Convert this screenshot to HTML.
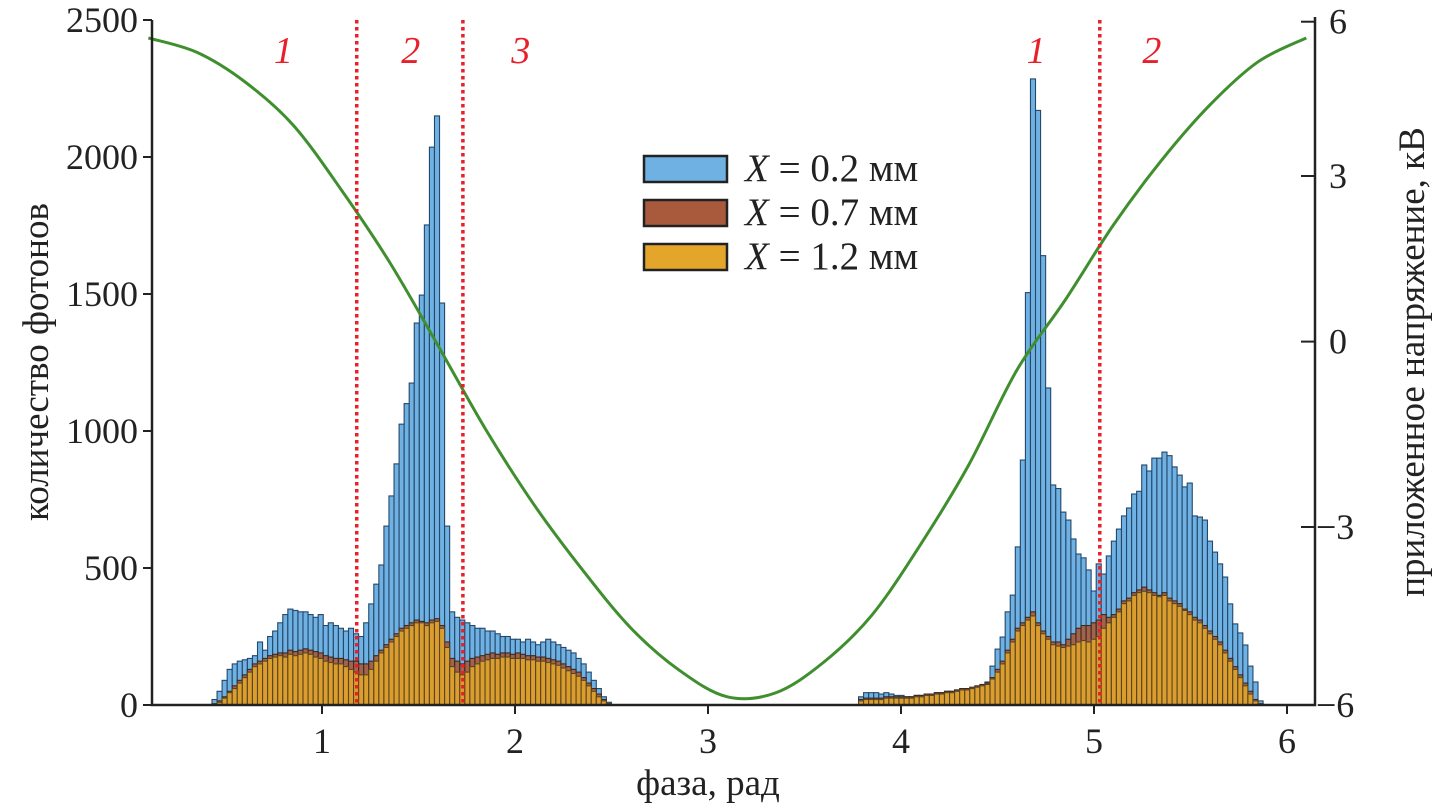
<!DOCTYPE html>
<html><head><meta charset="utf-8"><style>
body{margin:0;background:#fff;}
svg{display:block;font-family:"Liberation Serif",serif;}
</style></head><body>
<svg id="c" width="1437" height="808"></svg>
<script>
const binWidth = 0.0262;
const leftStart = 0.43;
const rightStart = 3.78;
const leftBlue = [20,50,90,130,150,160,165,170,180,230,200,250,270,300,330,350,345,340,340,330,320,330,290,300,290,280,270,280,260,250,300,369,441,511,653,763,880,1025,1100,1175,1394,1496,1752,2036,2150,1467,653,340,320,310,300,290,280,280,270,270,260,250,250,240,240,230,240,230,220,230,240,230,220,210,200,190,170,150,120,90,60,30,10];
const leftBrown = [5,15,30,50,70,90,110,130,150,160,170,180,185,190,190,200,195,200,205,200,195,190,180,175,170,170,165,160,160,150,150,160,180,200,220,240,260,280,290,300,310,305,300,310,315,290,230,170,160,150,160,170,175,180,185,190,185,190,190,185,190,185,180,180,175,175,170,165,160,150,140,130,120,100,80,60,40,20,5];
const leftYellow = [5,10,25,45,60,80,100,120,140,150,160,170,175,180,175,185,180,185,190,185,175,170,160,155,150,150,140,130,120,110,110,130,160,190,210,230,250,270,280,290,300,300,290,300,305,280,210,140,120,110,120,140,150,160,165,170,170,175,175,170,170,170,165,165,160,160,155,150,145,135,125,115,105,90,70,50,30,15,5];
const rightBlue = [30,45,45,45,40,45,40,35,35,30,30,35,35,40,40,45,45,50,50,55,55,60,60,65,70,84,142,204,248,340,401,577,894,1505,2285,2170,1640,1157,803,790,704,675,606,551,537,493,416,515,478,544,598,642,690,719,770,780,876,854,901,901,923,910,869,839,796,810,690,686,675,598,558,515,467,369,296,263,219,142,84,15];
const rightBrown = [20,25,25,25,25,30,30,30,30,30,30,35,35,40,40,45,45,50,50,55,60,60,65,70,75,80,100,130,160,200,240,280,300,320,340,300,270,250,230,230,220,240,260,280,290,290,300,310,330,320,330,350,380,390,410,420,430,420,410,400,410,390,380,370,350,340,320,310,290,270,250,230,200,170,140,110,80,50,20,5];
const rightYellow = [15,20,20,20,20,25,25,25,25,25,25,30,30,35,35,40,40,45,45,50,55,55,60,65,70,75,95,120,150,190,230,270,290,310,325,290,260,240,220,215,210,215,220,230,235,230,240,250,280,300,320,340,370,380,400,410,415,410,400,395,400,380,370,360,345,330,310,300,280,260,240,220,190,160,130,100,70,40,15,5];
const voltPhase = [0.1,0.35,0.6,0.85,1.1,1.35,1.6,1.85,2.1,2.35,2.6,2.85,3.1,3.35,3.6,3.85,4.1,4.35,4.6,4.85,5.1,5.35,5.6,5.85,6.1];
const voltValue = [5.72,5.47,4.95,4.19,3.05,1.78,0.32,-1.17,-2.49,-3.63,-4.65,-5.39,-5.86,-5.79,-5.25,-4.42,-3.19,-1.79,-0.12,1.11,2.43,3.57,4.54,5.30,5.72];
const xTicks = [1,2,3,4,5,6];
const yTicks = [0,500,1000,1500,2000,2500];
const vTicks = [6,3,0,-3,-6];
const vTickPx = [21.7,176,341.6,527,705];
const dividers = [1.18,1.73,5.03];
const zoneLabels = ["1","2","3","1","2"];
const zonePhase = [0.8,1.46,2.03,4.7,5.3];

const NS="http://www.w3.org/2000/svg", svg=document.getElementById('c');
const X0=152,X1=1315,Y0=705,Y1=20;
const xs=p=>129+193*p;
const ys=v=>Y0-(v/2500)*(Y0-Y1);
const vs=v=>22+(6-v)*56.9;
function el(t,a,p){const e=document.createElementNS(NS,t);for(const k in a)e.setAttribute(k,a[k]);(p||svg).appendChild(e);return e;}

const gBars=el('g',{});


function bars(arr,start,fill,stroke,name,op){
  arr.forEach((v,i)=>{
    const x=xs(start+i*binWidth), w=xs(start+(i+1)*binWidth)-x;
    const r=el('rect',{x:x,y:ys(v),width:w,height:Y0-ys(v),fill:fill,stroke:stroke,'stroke-width':1.1,'fill-opacity':op},gBars);
    
    
  });
}
bars(leftBlue,leftStart,'#6eb1e2','#24476a','bar-x02',1);
bars(rightBlue,rightStart,'#6eb1e2','#24476a','bar-x02',1);
bars(leftBrown,leftStart,'#a95a3c','#3a2a22','bar-x07',0.9);
bars(rightBrown,rightStart,'#a95a3c','#3a2a22','bar-x07',0.9);
bars(leftYellow,leftStart,'#e3a62a','#5a4520','bar-x12',0.88);
bars(rightYellow,rightStart,'#e3a62a','#5a4520','bar-x12',0.88);

const pts=voltPhase.map((p,i)=>[xs(p),vs(voltValue[i])]);
let d='M'+pts[0][0]+','+pts[0][1];
for(let i=0;i<pts.length-1;i++){
  const p0=pts[Math.max(0,i-1)],p1=pts[i],p2=pts[i+1],p3=pts[Math.min(pts.length-1,i+2)];
  d+=' C'+(p1[0]+(p2[0]-p0[0])/6)+','+(p1[1]+(p2[1]-p0[1])/6)+' '+(p2[0]-(p3[0]-p1[0])/6)+','+(p2[1]-(p3[1]-p1[1])/6)+' '+p2[0]+','+p2[1];
}
const vl=el('path',{d:d,fill:'none',stroke:'#3f8f2e','stroke-width':3});



dividers.forEach(p=>{
  const l=el('line',{x1:xs(p),x2:xs(p),y1:Y1,y2:Y0,stroke:'#e8202a','stroke-width':3.5,'stroke-dasharray':'3.5 3.5'});
  
  
});
zoneLabels.forEach((t,i)=>{
  const e=el('text',{x:xs(zonePhase[i]),y:63,'font-size':38,'font-style':'italic',fill:'#e8202a','text-anchor':'middle'});
  e.textContent=t;
  
  
});

const ax=el('path',{d:`M${X0},${Y1} V${Y0} H${X1} V${Y1-3}`,fill:'none',stroke:'#222','stroke-width':2.5});


xTicks.forEach(t=>{
  el('line',{x1:xs(t),x2:xs(t),y1:Y0,y2:Y0+9,stroke:'#222','stroke-width':2});
  const e=el('text',{x:xs(t),y:Y0+48,'font-size':36,'text-anchor':'middle',fill:'#222'});e.textContent=t;
  
  
});
yTicks.forEach(t=>{
  el('line',{x1:X0-9,x2:X0,y1:ys(t),y2:ys(t),stroke:'#222','stroke-width':2});
  const e=el('text',{x:X0-14,y:ys(t)+12,'font-size':36,'text-anchor':'end',fill:'#222'});e.textContent=t;
  
  
});
vTicks.forEach((t,i)=>{
  el('line',{x1:X1-14,x2:X1,y1:vTickPx[i],y2:vTickPx[i],stroke:'#222','stroke-width':2});
  const e=el('text',{x:X1+14,y:vTickPx[i]+12,'font-size':36,'text-anchor':'start',fill:'#222'});
  e.textContent=t<0?'\u2212'+(-t):String(t);
  if(t<0)e.setAttribute('x',X1+1);
  
  
});
let e=el('text',{x:708,y:795,'font-size':37,'text-anchor':'middle',fill:'#222'});e.textContent='фаза, рад';

e=el('text',{x:0,y:0,'font-size':37,'text-anchor':'middle',fill:'#222',transform:'translate(48,362) rotate(-90)'});e.textContent='количество фотонов';

e=el('text',{x:0,y:0,'font-size':37,'text-anchor':'middle',fill:'#222',transform:'translate(1424,362) rotate(-90)'});e.textContent='приложенное напряжение, кВ';


const legNames=['0.2','0.7','1.2'],legCols=['#6eb1e2','#a95a3c','#e3a62a'];
legNames.forEach((n,i)=>{
  const g=el('g',{});
  
  
  el('rect',{x:644,y:156+i*44,width:83,height:26,fill:legCols[i],stroke:'#222','stroke-width':2.5},g);
  const t=el('text',{x:745,y:181+i*44,'font-size':39,fill:'#222'},g);
  t.innerHTML='<tspan font-style="italic">X</tspan> = '+n+' мм';
});
</script>
</body></html>
